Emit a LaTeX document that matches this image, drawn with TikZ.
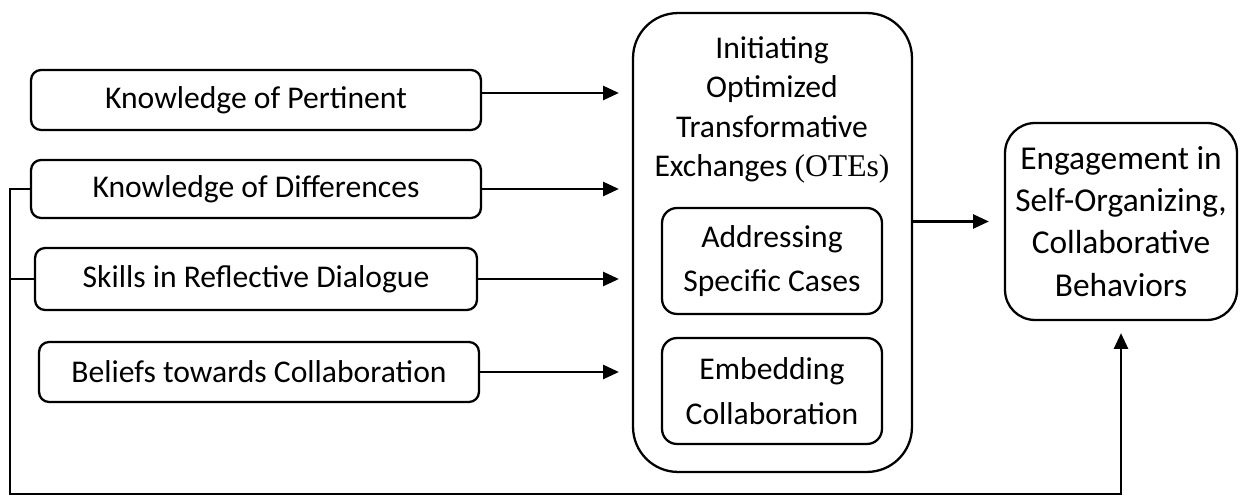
\documentclass[tikz,border=0pt]{standalone}
\usepackage{fontspec}
\setmainfont{Carlito}
\newfontfamily\serifpart{Liberation Serif}
\usetikzlibrary{arrows.meta,positioning}

\begin{document}
\begin{tikzpicture}[x=0.02cm,y=-0.02cm,line width=1.3pt,
    every node/.style={font=\fontsize{18}{22.4}\selectfont,align=center,inner sep=0pt},
    factor/.style={draw,rounded corners=0.2cm,minimum height=1.2cm},
    inner/.style={draw,rounded corners=0.3cm,minimum width=4.4cm,minimum height=2.12cm,
        font=\fontsize{18}{25.5}\selectfont},
    flow/.style={-{Triangle[length=9pt,width=8pt]}}]
    \useasboundingbox (0,0) rectangle (1241,496);
    % antecedents on the left
    \node[factor,minimum width=9cm] (know1) at (256,100) {Knowledge of Pertinent};
    \node[factor,minimum width=9cm,minimum height=1.16cm] (know2) at (256,189) {Knowledge of Differences};
    \node[factor,minimum width=8.84cm,minimum height=1.24cm] (skills) at (256,279) {Skills in Reflective Dialogue};
    \node[factor,minimum width=8.8cm] (beliefs) at (259,372) {Beliefs towards Collaboration};
    % central process box
    \node[draw,rounded corners=0.9cm,minimum width=5.58cm,minimum height=9.18cm] (ote) at (772.5,242.5) {};
    \node (otetitle) at (772,110) {Initiating\\Optimized\\Transformative\\Exchanges {\serifpart(OTEs)}};
    \node[inner] (addr) at (772,261) {Addressing\\Specific Cases};
    \node[inner] (embed) at (772,391) {Embedding\\Collaboration};
    % outcome
    \node[draw,rounded corners=0.6cm,minimum width=4.64cm,minimum height=3.94cm,
        font=\fontsize{19}{24}\selectfont] (engage) at (1121,221.5)
        {Engagement in\\Self-Organizing,\\Collaborative\\Behaviors};
    % arrows into the process
    \draw[flow,shorten >=0.26cm] ([yshift=0.14cm]know1.east) -- ([yshift=0.14cm]know1.east -| ote.west);
    \draw[flow,shorten >=0.26cm] (know2.east) -- (know2.east -| ote.west);
    \draw[flow,shorten >=0.26cm] (skills.east) -- (skills.east -| ote.west);
    \draw[flow,shorten >=0.26cm] (beliefs.east) -- (beliefs.east -| ote.west);
    \draw[flow,shorten >=0.3cm] (engage.west -| ote.east) -- (engage.west);
    % direct path along the bottom
    \coordinate (corner) at (10,494);
    \draw[flow,shorten >=0.24cm] (know2.west) -| (corner) -| (engage.south);
    \draw (skills.west) -- (skills.west -| corner);
\end{tikzpicture}
\end{document}
